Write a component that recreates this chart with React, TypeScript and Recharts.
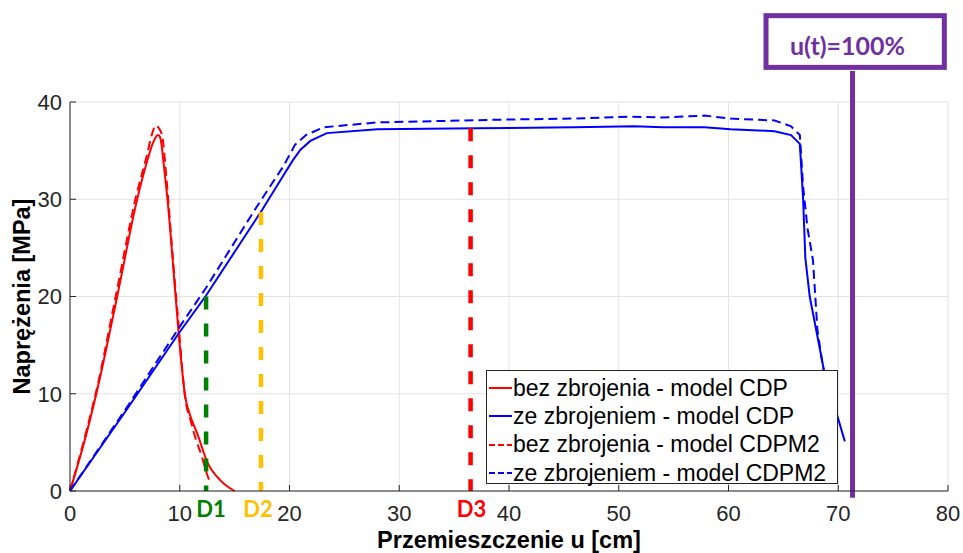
import React from 'react';
import { LineChart, Line, XAxis, YAxis, CartesianGrid, ReferenceLine, Legend } from 'recharts';

// axis ticks
const X_TICKS = [0, 10, 20, 30, 40, 50, 60, 70, 80];
const Y_TICKS = [0, 10, 20, 30, 40];

// bez zbrojenia - model CDP
const RED_CDP_X = [0, 1.5, 2.4, 4.3, 6.1, 7.0, 7.6, 8.0, 8.2, 8.6, 9.0, 9.4, 9.9, 10.5, 11.0, 11.6, 12.5, 13.7, 15.0];
const RED_CDP_Y = [0, 5.9, 10, 20, 29.9, 33.8, 35.9, 36.6, 36.4, 33.0, 28.6, 23.1, 16.2, 9.7, 7.6, 5.9, 3.0, 1.1, 0];

// ze zbrojeniem - model CDP
const BLUE_CDP_X = [0, 5, 9.9, 12.4, 17.5, 19.2, 20.3, 21.0, 21.9, 23.4, 28, 37, 46, 51.4, 54, 57.8, 60.2, 64.2, 65.7, 66.5, 66.8, 67.0, 67.4, 68.0, 68.7, 70.6];
const BLUE_CDP_Y = [0, 8.1, 16.2, 20.1, 28.9, 32.0, 34.0, 35.1, 36.0, 36.8, 37.2, 37.3, 37.4, 37.5, 37.4, 37.4, 37.2, 37.0, 36.6, 35.7, 30, 24, 20, 16.5, 12.4, 5.1];

// bez zbrojenia - model CDPM2
const RED_CDPM2_X = [0, 1.5, 2.4, 4.2, 6.0, 7.0, 7.5, 7.8, 8.1, 8.4, 8.8, 9.3, 9.9, 10.5, 11.0, 11.5, 12.0, 12.4, 12.8];
const RED_CDPM2_Y = [0, 6.2, 10.3, 20.2, 30.2, 34.5, 36.8, 37.6, 37.3, 36.5, 32, 25, 17, 9.5, 7.2, 5.2, 3.6, 2.0, 0.8];

// ze zbrojeniem - model CDPM2
const BLUE_CDPM2_X = [0, 5, 10, 12.4, 17.0, 19.5, 20.5, 21.5, 23.1, 28, 40, 46, 51.1, 54, 57.8, 60.2, 64.2, 65.7, 66.5, 66.8, 67.2, 67.7, 68.1, 68.6, 69.6];
const BLUE_CDPM2_Y = [0, 8.3, 16.9, 20.9, 29.2, 33.5, 35.6, 36.6, 37.4, 37.9, 38.2, 38.3, 38.5, 38.4, 38.6, 38.3, 38.1, 37.5, 36.6, 31.3, 27, 23.7, 16.6, 12.8, 8];

// markers D1..D3
const D_NAMES = ['D1', 'D2', 'D3'];
const D_X = [12.4, 17.4, 36.5];
const D_TOP = [20, 28.7, 37.3];
const D_COLORS = ['#008000', '#ffc000', '#ff0000'];
const D_SHIFT = [5, -3, 1];

// u(t)=100% marker
const U_X = 71.3;
const U_Y = [-0.7, 43.2];
const U_LABEL = 'u(t)=100%';
const PURPLE = '#7030a0';

const pts = (xs: number[], ys: number[]) => xs.map((x, i) => ({ x, y: ys[i] }));

const SERIES = [
  { name: 'bez zbrojenia - model CDP', color: '#ff0000', dashed: false, data: pts(RED_CDP_X, RED_CDP_Y), curve: 'monotone' },
  { name: 'ze zbrojeniem - model CDP', color: '#0000ff', dashed: false, data: pts(BLUE_CDP_X, BLUE_CDP_Y), curve: 'linear' },
  { name: 'bez zbrojenia - model CDPM2', color: '#ff0000', dashed: true, data: pts(RED_CDPM2_X, RED_CDPM2_Y), curve: 'monotone' },
  { name: 'ze zbrojeniem - model CDPM2', color: '#0000ff', dashed: true, data: pts(BLUE_CDPM2_X, BLUE_CDPM2_Y), curve: 'linear' },
];

const FONT = '"Liberation Sans", Arial, sans-serif';
const CALIBRI = 'Lato, "Open Sans", sans-serif';
const TICK = { fill: '#262626', fontSize: 22, fontFamily: FONT };

const renderLegend = () => (
  <div
    style={{
      width: 352,
      height: 114,
      boxSizing: 'border-box',
      border: '1px solid #262626',
      background: '#fff',
      padding: '3px 0 0 1px',
      fontFamily: FONT,
      fontSize: 23,
      color: '#000',
    }}
  >
    {SERIES.map((s) => (
      <div key={s.name} style={{ display: 'flex', alignItems: 'center', height: 28.3, whiteSpace: 'nowrap' }}>
        <svg width={25} height={10}>
          <line x1={1} y1={5} x2={24} y2={5} stroke={s.color} strokeWidth={2} strokeDasharray={s.dashed ? '6 3' : undefined} />
        </svg>
        <span>{s.name}</span>
      </div>
    ))}
  </div>
);

const dLabel = (name: string, color: string, dx: number) => (props: any) => {
  const vb = props.viewBox || {};
  return (
    <text
      x={vb.x + dx}
      y={vb.y + vb.height + 26}
      textAnchor="middle"
      fill={color}
      fontFamily={CALIBRI}
      fontWeight={700}
      fontSize={22}
    >
      {name}
    </text>
  );
};

const uLabel = (props: any) => {
  const vb = props.viewBox || {};
  return (
    <g>
      <rect x={vb.x - 86.5} y={vb.y - 55.2} width={178.3} height={51.7} fill="#fff" stroke={PURPLE} strokeWidth={5} />
      <text x={vb.x - 5} y={vb.y - 16} textAnchor="middle" fill={PURPLE} fontFamily={CALIBRI} fontWeight={700} fontSize={25}>
        {U_LABEL}
      </text>
    </g>
  );
};

const xTitle = (props: any) => {
  const vb = props.viewBox || {};
  return (
    <text x={vb.x + vb.width / 2} y={548} textAnchor="middle" fontFamily={FONT} fontWeight={700} fontSize={23.5} fill="#000">
      Przemieszczenie u [cm]
    </text>
  );
};

const yTitle = (props: any) => {
  const vb = props.viewBox || {};
  const cx = 22;
  const cy = vb.y + vb.height / 2;
  return (
    <text
      x={cx}
      y={cy}
      transform={`rotate(-90 ${cx} ${cy})`}
      textAnchor="middle"
      dominantBaseline="central"
      fontFamily={FONT}
      fontWeight={700}
      fontSize={23.5}
      fill="#000"
    >
      Naprężenia [MPa]
    </text>
  );
};

export default function App() {
  return (
    <div style={{ position: 'absolute', left: 0, top: 0, width: 963, height: 553, background: '#fff' }}>
      <LineChart width={963} height={553} margin={{ top: 102, right: 15, bottom: 0, left: 0 }}>
        <CartesianGrid stroke="#e3e3e3" strokeWidth={1} />
        <XAxis
          dataKey="x"
          type="number"
          domain={[0, 80]}
          ticks={X_TICKS}
          interval={0}
          height={62}
          tick={TICK}
          tickSize={-6}
          tickMargin={20}
          stroke="#262626"
          label={xTitle}
        />
        <XAxis
          xAxisId="top"
          orientation="top"
          type="number"
          domain={[0, 80]}
          ticks={X_TICKS}
          interval={0}
          height={0}
          tickSize={-6}
          tickFormatter={() => ''}
          stroke="#262626"
        />
        <YAxis
          type="number"
          domain={[0, 40]}
          ticks={Y_TICKS}
          interval={0}
          width={70}
          tick={TICK}
          tickSize={-6}
          tickMargin={14}
          stroke="#262626"
          label={yTitle}
        />
        <YAxis
          yAxisId="right"
          orientation="right"
          type="number"
          domain={[0, 40]}
          ticks={Y_TICKS}
          interval={0}
          width={0}
          tickSize={-6}
          tickFormatter={() => ''}
          stroke="#262626"
        />
        {SERIES.map((s) => (
          <Line
            key={s.name}
            data={s.data}
            dataKey="y"
            name={s.name}
            type={s.curve as any}
            stroke={s.color}
            strokeWidth={2}
            strokeDasharray={s.dashed ? '9 5' : undefined}
            dot={false}
            activeDot={false}
            isAnimationActive={false}
          />
        ))}
        {D_NAMES.map((name, i) => (
          <ReferenceLine
            key={name}
            segment={[
              { x: D_X[i], y: D_TOP[i] },
              { x: D_X[i], y: 0 },
            ]}
            stroke={D_COLORS[i]}
            strokeWidth={4.5}
            strokeDasharray="13 14"
            ifOverflow="visible"
            label={dLabel(name, D_COLORS[i], D_SHIFT[i])}
          />
        ))}
        <ReferenceLine
          segment={[
            { x: U_X, y: U_Y[1] },
            { x: U_X, y: U_Y[0] },
          ]}
          stroke={PURPLE}
          strokeWidth={5}
          ifOverflow="visible"
          label={uLabel}
        />
        <Legend
          layout="vertical"
          align="center"
          verticalAlign="middle"
          content={renderLegend}
          wrapperStyle={{ left: 486, top: 370, width: 352 }}
        />
      </LineChart>
    </div>
  );
}
